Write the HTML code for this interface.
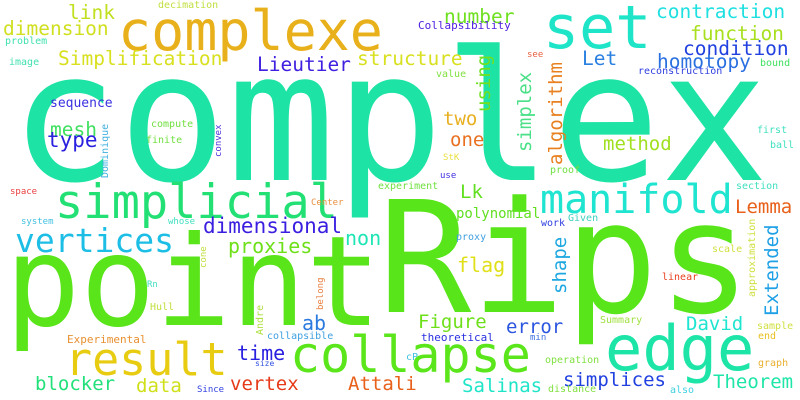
<!DOCTYPE html>
<html><head><meta charset="utf-8"><style>
html,body{margin:0;padding:0;background:#fff;width:800px;height:400px;overflow:hidden}
svg text{font-family:"DejaVu Sans Mono","Liberation Mono",monospace}
</style></head><body>
<svg id="cloud" width="800" height="400" viewBox="0 0 800 400" xmlns="http://www.w3.org/2000/svg">
<rect width="800" height="400" fill="#fff"/>
</svg>
<script>
// word, x, baseline y, font size, color, vertical(1)
const words=["complex","complexe","set","Rips","point","simplicial","manifold","edge","collapse","result","vertices","dimensional","proxies","non","ab","time","vertex","Attali","blocker","data","Salinas","simplices","Theorem","David","error","Figure","theoretical","min","flag","shape","Extended","approximation","Lemma","polynomial","Given","work","proxy","scale","linear","Summary","sample","end","graph","operation","distance","also","cP","Lk","number","Collapsibility","contraction","function","condition","homotopy","Let","see","bound","reconstruction","value","using","simplex","algorithm","two","one","method","first","ball","StK","use","proof","section","experiment","link","decimation","dimension","problem","image","Simplification","structure","Lieutier","sequence","mesh","type","Dominique","compute","finite","convex","space","system","whose","Center","cone","Rn","Hull","belong","Andre","collapsible","Experimental","size","Since"];
const xs=[10,118,543,378,5,55,540,605,290,65,15,203,228,345,302,237,230,348,35,136,462,563,713,686,506,418,421,530,457,566,778,755,735,456,568,541,456,712,662,600,757,758,758,545,548,670,406,460,444,418,656,690,683,657,582,527,760,638,436,490,531,562,443,450,603,757,770,443,440,550,736,378,68,158,3,5,9,58,357,257,50,50,47,108,151,146,221,10,21,168,311,206,147,150,323,263,267,67,255,197];
const ys=[180,50,48,312,325,218,213,370,372,375,252,233,253,245,330,360,390,390,390,392,392,386,388,330,333,328,341,340,272,294,316,297,213,218,221,226,240,252,280,323,329,339,366,363,392,393,360,198,23,29,18,40,55,68,65,57,66,74,77,112,152,165,125,146,150,133,148,160,178,173,189,189,19,8,35,44,65,65,65,71,107,136,147,178,127,143,157,194,224,224,205,268,287,310,310,335,339,343,366,392];
const sizes=[180,55,60,155,125,47,40,62,50,45,33,21,20,20,20,20,19,19,19,19,19,19,19,19,19,19,11,9,20,19,19,10,19,14,10,10,10,10,10,10,10,10,10,10,10,10,10,19,19.5,11,19.5,19.5,19.5,19.5,19.5,9,10,10,10,19,19,19,19,19,19,10,10,9,9,10,10,10,19.5,10,19.5,10,10,19.5,19.5,19.5,13,19.5,21,10,10,10,9,9,9,9,9,9,9,10,9,10,10,11,8,9];
const colors=["#1de3a4","#e8b01a","#1ee5c8","#58e61a","#5ae41a","#22e074","#1fe5d0","#1de5a8","#5ae61a","#e8cc12","#1cbee6","#3a1fe0","#6ee01a","#1ee5b5","#2a7ae0","#2a20e0","#e63a1a","#e8601a","#22e07a","#cfe01a","#1ee5c8","#2040e0","#1ee5a8","#1ee5d0","#2a55e0","#6ee01a","#2a30e0","#4070e0","#e0e01a","#1ea8e0","#1ea0e6","#d0e040","#e8601a","#60e020","#40d0c0","#3040e0","#40a0e0","#d0e040","#e84020","#a0e040","#d0e040","#e8c020","#e8b030","#80e040","#80e040","#40d0e0","#40c0e0","#60e020","#6ee020","#5020e0","#1ee0e0","#a8e020","#2040e0","#2a70e0","#2a80e0","#e86040","#40e060","#3040e0","#80e040","#70e020","#4ae088","#e88020","#e8b020","#e87020","#a0e020","#40e0c0","#40e0c0","#e8e040","#4030e0","#70e040","#40e0c0","#70e040","#c0e020","#c0e040","#d0e020","#40e0b0","#40e0b0","#d8e020","#d8e020","#4020e0","#3a30e0","#40e060","#2a20e0","#40b0e0","#70e040","#70e040","#5030e0","#e84040","#40c0e0","#40e0c0","#e89040","#c0e040","#40e0c0","#c0e040","#e88040","#b0e040","#40a0e0","#e89030","#3050e0","#3040e0"];
const vertical=["shape","Extended","approximation","using","simplex","algorithm","Dominique","convex","cone","belong","Andre"];
const svg=document.getElementById('cloud');
const NS="http://www.w3.org/2000/svg";
for(let i=0;i<words.length;i++){
  const t=document.createElementNS(NS,'text');
  t.setAttribute('x',xs[i]);
  t.setAttribute('y',ys[i]);
  t.setAttribute('font-size',sizes[i]);
  t.setAttribute('fill',colors[i]);
  if(vertical.indexOf(words[i])>=0){
    t.setAttribute('transform','rotate(-90 '+xs[i]+' '+ys[i]+')');
  }
  t.textContent=words[i];
  
  
  svg.appendChild(t);
}
</script>
</body></html>
